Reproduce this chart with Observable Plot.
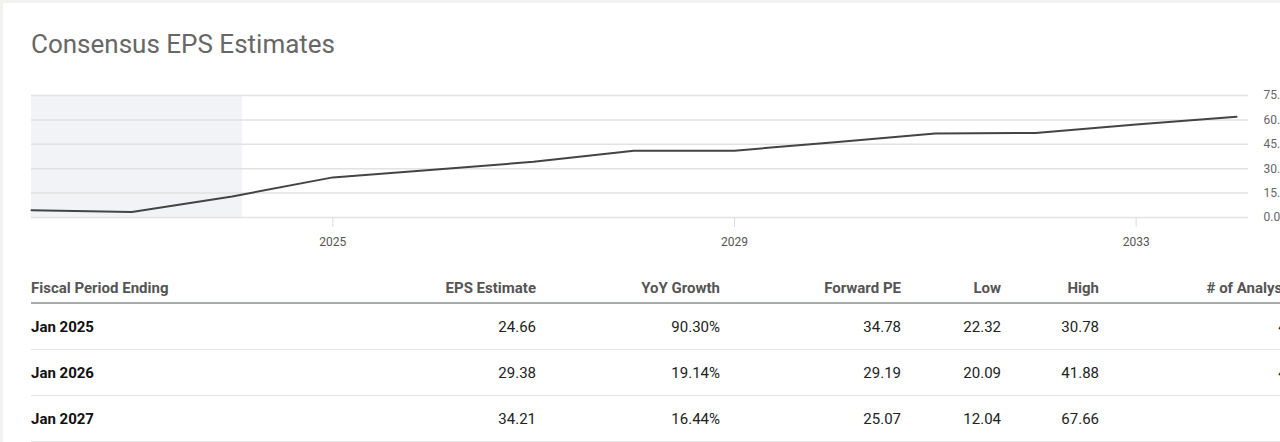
<!DOCTYPE html>
<html>
<head>
<meta charset="utf-8">
<script src="https://cdn.jsdelivr.net/npm/d3@7"></script>
<script src="https://cdn.jsdelivr.net/npm/@observablehq/plot@0.6"></script>
<style>
  html, body { margin: 0; padding: 0; overflow: hidden; background: #f4f1f1; }
  body { width: 1280px; height: 442px; font-family: Roboto, "Helvetica Neue", Arial, sans-serif; }
  #card { position: absolute; left: 3px; top: 3px; width: 1400px; height: 460px; background: #fff; }
  #title { position: absolute; left: 28px; top: 28px; font-size: 26px; line-height: 26px; color: #676767; font-weight: 400; white-space: nowrap; }
  #chart { position: absolute; left: -3px; top: 77px; width: 1320px; }
  #tbl { position: absolute; left: 28px; top: 271px; border-collapse: collapse; table-layout: fixed; font-size: 15px; }
  #tbl th { height: 28px; padding: 0; color: #555; font-weight: 700; text-align: right; border-bottom: 2px solid #a7abab; white-space: nowrap; }
  #tbl td { height: 45px; padding: 0; color: #222; text-align: right; border-bottom: 1px solid #e4e4e4; white-space: nowrap; }
  #tbl th:first-child, #tbl td:first-child { text-align: left; }
  #tbl td:first-child { font-weight: 700; color: #111; }
</style>
</head>
<body>
<div id="card">
  <div id="title">Consensus EPS Estimates</div>
  <div id="chart"></div>
  <table id="tbl"></table>
</div>
<script>
// ---- chart data ----
const years = [2022, 2023, 2024, 2025, 2026, 2027, 2028, 2029, 2030, 2031, 2032, 2033, 2034];
const eps   = [4.44, 3.34, 12.96, 24.66, 29.38, 34.21, 41.0, 41.1, 46.3, 51.6, 52.0, 57.1, 62.0];
const shadeStart = "2022-01-01";
const shadeEnd = "2024-02-07";
const xTickYears = [2025, 2029, 2033];
const yTicks = [0, 15, 30, 45, 60, 75];

// ---- table data ----
const tblHeaders = ["Fiscal Period Ending", "EPS Estimate", "YoY Growth", "Forward PE", "Low", "High", "# of Analysts"];
const tblPeriods = ["Jan 2025", "Jan 2026", "Jan 2027"];
const tblEps = ["24.66", "29.38", "34.21"];
const tblGrowth = ["90.30%", "19.14%", "16.44%"];
const tblFwdPE = ["34.78", "29.19", "25.07"];
const tblLow = ["22.32", "20.09", "12.04"];
const tblHigh = ["30.78", "41.88", "67.66"];
const tblAnalysts = ["41", "41", "9"];

const toDate = y => new Date(Date.UTC(y, 0, 1));
const series = years.map((y, i) => ({date: toDate(y), eps: eps[i]}));
const shade = [{x1: new Date(shadeStart + "T00:00:00Z"), x2: new Date(shadeEnd + "T00:00:00Z"), y1: 0, y2: 75}];

const chart = Plot.plot({
  width: 1320,
  height: 175,
  marginLeft: 31,
  marginRight: 72,
  marginTop: 15,
  marginBottom: 38,
  style: {fontFamily: "Roboto, Helvetica, Arial, sans-serif", fontSize: "12px", background: "transparent", maxWidth: "none"},
  x: {type: "utc", domain: [toDate(2022), toDate(2034)], insetRight: 12},
  y: {domain: [0, 75]},
  marks: [
    Plot.rect(shade, {x1: "x1", x2: "x2", y1: "y1", y2: "y2", fill: "#f2f3f7"}),
    Plot.gridY(yTicks, {stroke: "#e2e2e2", strokeOpacity: 1, strokeWidth: 1.5}),
    Plot.axisY(yTicks, {anchor: "right", tickSize: 0, tickPadding: 15, tickFormat: d3.format(".2f"), fill: "#666", label: null}),
    Plot.axisX(xTickYears.map(toDate), {tickSize: 10, tickPadding: 10, stroke: "#dcdcdc", fill: "#555", tickFormat: d3.utcFormat("%Y"), label: null}),
    Plot.line(series, {x: "date", y: "eps", stroke: "#444", strokeWidth: 2})
  ]
});
document.getElementById("chart").appendChild(chart);

// ---- table ----
(function(){
  const tbl = document.getElementById("tbl");
  const widths = [269, 236, 184, 181, 100, 98, 196];
  const cg = document.createElement("colgroup");
  widths.forEach(w => { const c = document.createElement("col"); c.style.width = w + "px"; cg.appendChild(c); });
  tbl.appendChild(cg);
  tbl.style.width = widths.reduce((a, b) => a + b, 0) + "px";
  const hr = document.createElement("tr");
  tblHeaders.forEach(h => { const th = document.createElement("th"); th.textContent = h; hr.appendChild(th); });
  tbl.appendChild(hr);
  tblPeriods.forEach((p, i) => {
    const tr = document.createElement("tr");
    [p, tblEps[i], tblGrowth[i], tblFwdPE[i], tblLow[i], tblHigh[i], tblAnalysts[i]].forEach(v => {
      const td = document.createElement("td"); td.textContent = v; tr.appendChild(td);
    });
    tbl.appendChild(tr);
  });
})();
</script>
</body>
</html>
